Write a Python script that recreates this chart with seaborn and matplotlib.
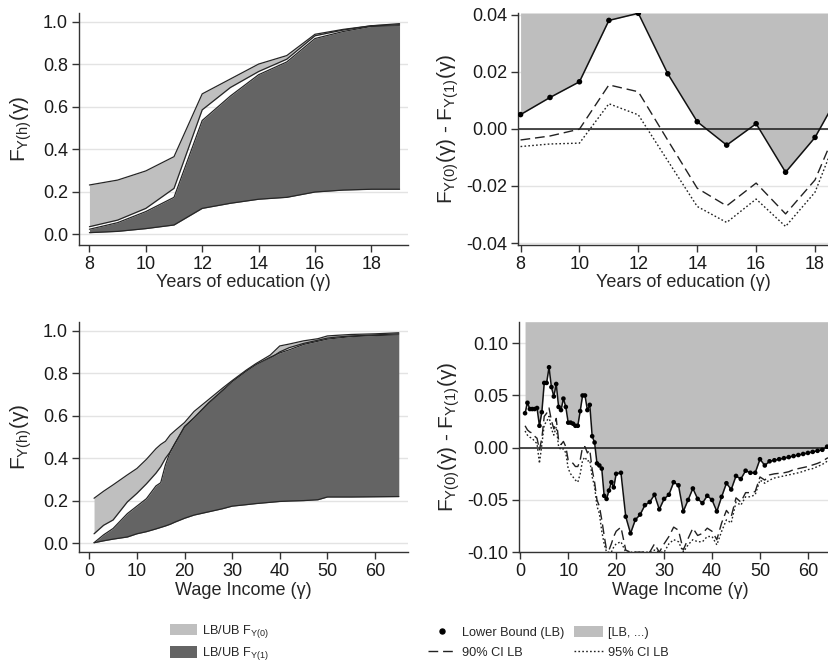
import matplotlib
matplotlib.use("Agg")
import matplotlib.pyplot as plt
import seaborn as sns
from matplotlib.patches import Patch
from matplotlib.lines import Line2D

# ---------------- Years of education ----------------
edu_years = [8, 9, 10, 11, 12, 13, 14, 15, 16, 17, 18, 19]
edu_f0_lb = [0.036, 0.067, 0.122, 0.216, 0.585, 0.690, 0.765, 0.823, 0.933, 0.960, 0.980, 0.985]
edu_f0_ub = [0.232, 0.255, 0.298, 0.365, 0.660, 0.730, 0.800, 0.840, 0.940, 0.963, 0.980, 0.990]
edu_f1_lb = [0.008, 0.014, 0.027, 0.044, 0.122, 0.146, 0.165, 0.174, 0.199, 0.208, 0.212, 0.212]
edu_f1_ub = [0.024, 0.055, 0.107, 0.174, 0.535, 0.650, 0.750, 0.810, 0.920, 0.953, 0.977, 0.980]

edu_diff_lb = [0.0050, 0.0110, 0.0165, 0.0380, 0.0405, 0.0193, 0.0025, -0.0057, 0.0018, -0.0152, -0.0030, 0.0155]
edu_ci90_lb = [-0.0039, -0.0025, -0.0001, 0.0154, 0.0130, -0.0040, -0.0208, -0.0270, -0.0190, -0.0298, -0.0179, 0.0064]
edu_ci95_lb = [-0.0062, -0.0053, -0.0050, 0.0088, 0.0049, -0.0112, -0.0272, -0.0328, -0.0246, -0.0342, -0.0222, 0.0040]

# ---------------- Wage income: bounds on the CDFs ----------------
wage_x = [1, 3, 5, 8, 10, 12, 14, 15, 16, 17, 18, 20, 22, 25, 28, 30, 33, 35, 38, 40,
          42, 45, 48, 50, 52, 55, 60, 65]
wage_f0_ub = [0.212, 0.245, 0.275, 0.322, 0.352, 0.395, 0.445, 0.465, 0.480, 0.510, 0.530, 0.568,
              0.620, 0.675, 0.730, 0.765, 0.815, 0.845, 0.885, 0.928, 0.937, 0.952, 0.962, 0.975,
              0.978, 0.982, 0.985, 0.990]
wage_f0_lb = [0.045, 0.085, 0.110, 0.195, 0.235, 0.280, 0.330, 0.360, 0.400, 0.430, 0.470, 0.545,
              0.590, 0.655, 0.715, 0.750, 0.800, 0.830, 0.870, 0.900, 0.920, 0.940, 0.955, 0.965,
              0.970, 0.975, 0.980, 0.985]
wage_f1_ub = [0.003, 0.040, 0.070, 0.140, 0.175, 0.210, 0.270, 0.285, 0.370, 0.430, 0.470, 0.550,
              0.590, 0.660, 0.720, 0.760, 0.810, 0.840, 0.875, 0.895, 0.910, 0.935, 0.950, 0.960,
              0.965, 0.972, 0.977, 0.980]
wage_f1_lb = [0.003, 0.012, 0.020, 0.030, 0.045, 0.055, 0.068, 0.075, 0.082, 0.090, 0.100, 0.118,
              0.133, 0.148, 0.163, 0.175, 0.182, 0.187, 0.193, 0.197, 0.199, 0.201, 0.205, 0.218,
              0.218, 0.218, 0.219, 0.220]

# ---------------- Wage income: lower bound of the difference ----------------
wage_grid = [1.0, 1.5, 2.0, 2.5, 3.0, 3.5, 4.0, 4.5, 5.0, 5.5, 6.0, 6.5, 7.0, 7.5, 8.0, 8.5,
             9.0, 9.5, 10.0, 10.5, 11.0, 11.5, 12.0, 12.5, 13.0, 13.5, 14.0, 14.5, 15.0, 15.5,
             16.0, 16.5, 17.0, 17.5, 18.0, 18.5, 19.0, 19.5, 20.0,
             21, 22, 23, 24, 25, 26, 27, 28, 29, 30, 31, 32, 33, 34, 35, 36, 37, 38, 39, 40,
             41, 42, 43, 44, 45, 46, 47, 48, 49, 50, 51, 52, 53, 54, 55, 56, 57, 58, 59, 60,
             61, 62, 63, 64, 65]
wage_diff_lb = [0.033, 0.043, 0.037, 0.037, 0.037, 0.038, 0.021, 0.034, 0.062, 0.062, 0.077, 0.058,
                0.049, 0.061, 0.039, 0.036, 0.047, 0.039, 0.024, 0.024, 0.023, 0.021, 0.021, 0.035,
                0.050, 0.050, 0.036, 0.041, 0.011, 0.005, -0.015, -0.017, -0.020, -0.046, -0.049,
                -0.041, -0.033, -0.038, -0.025,
                -0.024, -0.066, -0.082, -0.069, -0.064, -0.055, -0.052, -0.045, -0.059, -0.049,
                -0.045, -0.033, -0.036, -0.061, -0.050, -0.039, -0.049, -0.053, -0.046, -0.050,
                -0.061, -0.047, -0.034, -0.040, -0.027, -0.030, -0.022, -0.024, -0.024, -0.011,
                -0.017, -0.013, -0.012, -0.011, -0.010, -0.009, -0.008, -0.007, -0.006, -0.005,
                -0.004, -0.003, -0.002, 0.001, 0.001]
wage_ci90_lb = [0.021, 0.017, 0.015, 0.014, 0.011, 0.009, -0.002, 0.009, 0.030, 0.033, 0.038, 0.026,
                0.018, 0.028, 0.007, 0.003, 0.006, 0.001, -0.012, -0.013, -0.015, -0.018, -0.018,
                -0.012, 0.001, 0.001, -0.005, -0.002, -0.021, -0.033, -0.050, -0.056, -0.069,
                -0.084, -0.098, -0.098, -0.092, -0.085, -0.080,
                -0.076, -0.098, -0.100, -0.100, -0.100, -0.100, -0.100, -0.092, -0.100, -0.092,
                -0.085, -0.076, -0.079, -0.098, -0.087, -0.077, -0.084, -0.082, -0.077, -0.080,
                -0.088, -0.072, -0.060, -0.066, -0.048, -0.052, -0.043, -0.043, -0.042, -0.028,
                -0.031, -0.026, -0.025, -0.0245, -0.024, -0.023, -0.021, -0.020, -0.019, -0.018,
                -0.0165, -0.015, -0.013, -0.010, -0.009]
wage_ci95_lb = [0.016, 0.012, 0.010, 0.009, 0.006, 0.004, -0.015, 0.003, 0.022, 0.025, 0.030, 0.018,
                0.012, 0.020, 0.001, -0.002, -0.001, -0.005, -0.020, -0.025, -0.028, -0.031, -0.033,
                -0.025, -0.012, -0.009, -0.013, -0.012, -0.028, -0.037, -0.056, -0.063, -0.080,
                -0.092, -0.100, -0.100, -0.100, -0.095, -0.092,
                -0.090, -0.100, -0.100, -0.100, -0.100, -0.100, -0.100, -0.098, -0.100, -0.100,
                -0.092, -0.088, -0.090, -0.100, -0.093, -0.088, -0.090, -0.090, -0.085, -0.085,
                -0.093, -0.080, -0.069, -0.072, -0.052, -0.055, -0.047, -0.047, -0.045, -0.031,
                -0.034, -0.031, -0.029, -0.028, -0.027, -0.026, -0.025, -0.024, -0.0227, -0.021,
                -0.020, -0.018, -0.016, -0.013, -0.012]

# ---------------- styling ----------------
LIGHT = "#bfbfbf"
DARK = "#646464"
EDGE = "#262626"
FILL = "#bebebe"
GRID = "#e3e3e3"
AXC = "#333333"

sns.set_theme(style="white")
plt.rcParams.update({
    "font.family": ["Liberation Sans", "DejaVu Sans"],
    "mathtext.fontset": "custom",
    "mathtext.rm": "Liberation Sans",
    "mathtext.it": "Liberation Sans:italic",
    "mathtext.default": "regular",
    "axes.unicode_minus": False,
})

W, H = 829, 664
fig = plt.figure(figsize=(W / 100, H / 100), dpi=100)


def px_axes(left, top, right, bottom):
    return fig.add_axes([left / W, 1 - bottom / H, (right - left) / W, (bottom - top) / H])


def style(ax, yticks, fmt):
    ax.set_yticks(yticks)
    ax.set_yticklabels([fmt.format(v) for v in yticks])
    for v in yticks:
        ax.axhline(v, color=GRID, lw=1, zorder=0)
    sns.despine(ax=ax)
    for s in ("left", "bottom"):
        ax.spines[s].set_color(AXC)
        ax.spines[s].set_linewidth(1.0)
    ax.tick_params(direction="out", length=5, width=1, color=AXC, labelsize=13,
                   pad=3, left=True, bottom=True, labelcolor="#1a1a1a")


def bounds_panel(ax, x, f0_lb, f0_ub, f1_lb, f1_ub):
    ax.fill_between(x, f0_lb, f0_ub, color=LIGHT, lw=0, zorder=1)
    for y in (f0_lb, f0_ub):
        sns.lineplot(x=x, y=y, ax=ax, color=EDGE, lw=0.9, zorder=2)
    ax.fill_between(x, f1_lb, f1_ub, color=DARK, lw=0, zorder=3)
    for y in (f1_lb, f1_ub):
        sns.lineplot(x=x, y=y, ax=ax, color=EDGE, lw=0.9, zorder=4)


def diff_panel(ax, x, lb, ci90, ci95, ytop, msize):
    ax.fill_between(x, lb, ytop, color=FILL, lw=0, zorder=1)
    ax.axhline(0, color="#1a1a1a", lw=1.1, zorder=2)
    sns.lineplot(x=x, y=ci90, ax=ax, color="#222222", lw=1.0, linestyle=(0, (7, 3.5)), zorder=3)
    sns.lineplot(x=x, y=ci95, ax=ax, color="#222222", lw=1.0, linestyle=(0, (1.2, 1.6)), zorder=3)
    sns.lineplot(x=x, y=lb, ax=ax, color="#111111", lw=1.1, zorder=4)
    sns.scatterplot(x=x, y=lb, ax=ax, color="#000000", s=msize, edgecolor="none", zorder=5)


# Top left: CDF bounds by years of education
ax1 = px_axes(79, 13, 408, 245)
bounds_panel(ax1, edu_years, edu_f0_lb, edu_f0_ub, edu_f1_lb, edu_f1_ub)
ax1.set_xlim(7.63, 19.3)
ax1.set_ylim(-0.05, 1.04)
ax1.set_xticks([8, 10, 12, 14, 16, 18])
style(ax1, [0.0, 0.2, 0.4, 0.6, 0.8, 1.0], "{:.1f}")
ax1.set_xlabel("Years of education (γ)", fontsize=13, labelpad=1)
ax1.set_ylabel("F$_{Y(h)}$(γ)", fontsize=15, labelpad=6)

# Top right: lower bound of F_Y(0) - F_Y(1) by years of education
ax2 = px_axes(518.5, 13, 848, 245)
diff_panel(ax2, edu_years, edu_diff_lb, edu_ci90_lb, edu_ci95_lb, 0.0406, 16)
ax2.set_xlim(7.93, 19.12)
ax2.set_ylim(-0.0407, 0.0406)
ax2.set_xticks([8, 10, 12, 14, 16, 18])
style(ax2, [-0.04, -0.02, 0.0, 0.02, 0.04], "{:.2f}")
ax2.set_xlabel("Years of education (γ)", fontsize=13, labelpad=1)
ax2.set_ylabel("F$_{Y(0)}$(γ) - F$_{Y(1)}$(γ)", fontsize=15, labelpad=4)

# Bottom left: CDF bounds by wage income
ax3 = px_axes(79, 321.7, 408.3, 552.3)
bounds_panel(ax3, wage_x, wage_f0_lb, wage_f0_ub, wage_f1_lb, wage_f1_ub)
ax3.set_xlim(-2.16, 67.0)
ax3.set_ylim(-0.042, 1.042)
ax3.set_xticks([0, 10, 20, 30, 40, 50, 60])
style(ax3, [0.0, 0.2, 0.4, 0.6, 0.8, 1.0], "{:.1f}")
ax3.set_xlabel("Wage Income (γ)", fontsize=13, labelpad=1)
ax3.set_ylabel("F$_{Y(h)}$(γ)", fontsize=15, labelpad=6)

# Bottom right: lower bound of F_Y(0) - F_Y(1) by wage income
ax4 = px_axes(519.3, 321.7, 841.5, 552.3)
diff_panel(ax4, wage_grid, wage_diff_lb, wage_ci90_lb, wage_ci95_lb, 0.1206, 11)
ax4.set_xlim(-0.2, 67.0)
ax4.set_ylim(-0.1001, 0.1206)
ax4.set_xticks([0, 10, 20, 30, 40, 50, 60])
style(ax4, [-0.10, -0.05, 0.0, 0.05, 0.10], "{:.2f}")
ax4.set_xlabel("Wage Income (γ)", fontsize=13, labelpad=1)
ax4.set_ylabel("F$_{Y(0)}$(γ) - F$_{Y(1)}$(γ)", fontsize=15, labelpad=4)

# Legends
legend_font = {"family": ["Liberation Sans", "DejaVu Sans"], "size": 9.2}

left_handles = [
    Patch(facecolor=LIGHT, edgecolor="none", label="LB/UB F$_{Y(0)}$"),
    Patch(facecolor=DARK, edgecolor="none", label="LB/UB F$_{Y(1)}$"),
]
fig.legend(handles=left_handles, loc="upper left", bbox_to_anchor=(170.5 / W, 1 - 623 / H),
           frameon=False, prop=legend_font, handlelength=2.05, handleheight=1.05,
           labelspacing=0.4, handletextpad=0.45, borderpad=0, borderaxespad=0)

right_handles = [
    Line2D([], [], marker="o", color="#000000", linestyle="none", markersize=3.6,
           label="Lower Bound (LB)"),
    Line2D([], [], color="#222222", lw=1.0, linestyle=(0, (7, 3.5)), label="90% CI LB"),
    Patch(facecolor=FILL, edgecolor="none", label="[LB, ...)"),
    Line2D([], [], color="#222222", lw=1.0, linestyle=(0, (1.2, 1.6)), label="95% CI LB"),
]
fig.legend(handles=right_handles, loc="upper left", bbox_to_anchor=(428 / W, 1 - 626 / H),
           ncol=2, frameon=False, prop=legend_font, handlelength=2.25, handleheight=1.0,
           labelspacing=0.5, handletextpad=0.4, columnspacing=0.8, borderpad=0,
           borderaxespad=0, numpoints=1)

fig.savefig("out.png", dpi=100)
